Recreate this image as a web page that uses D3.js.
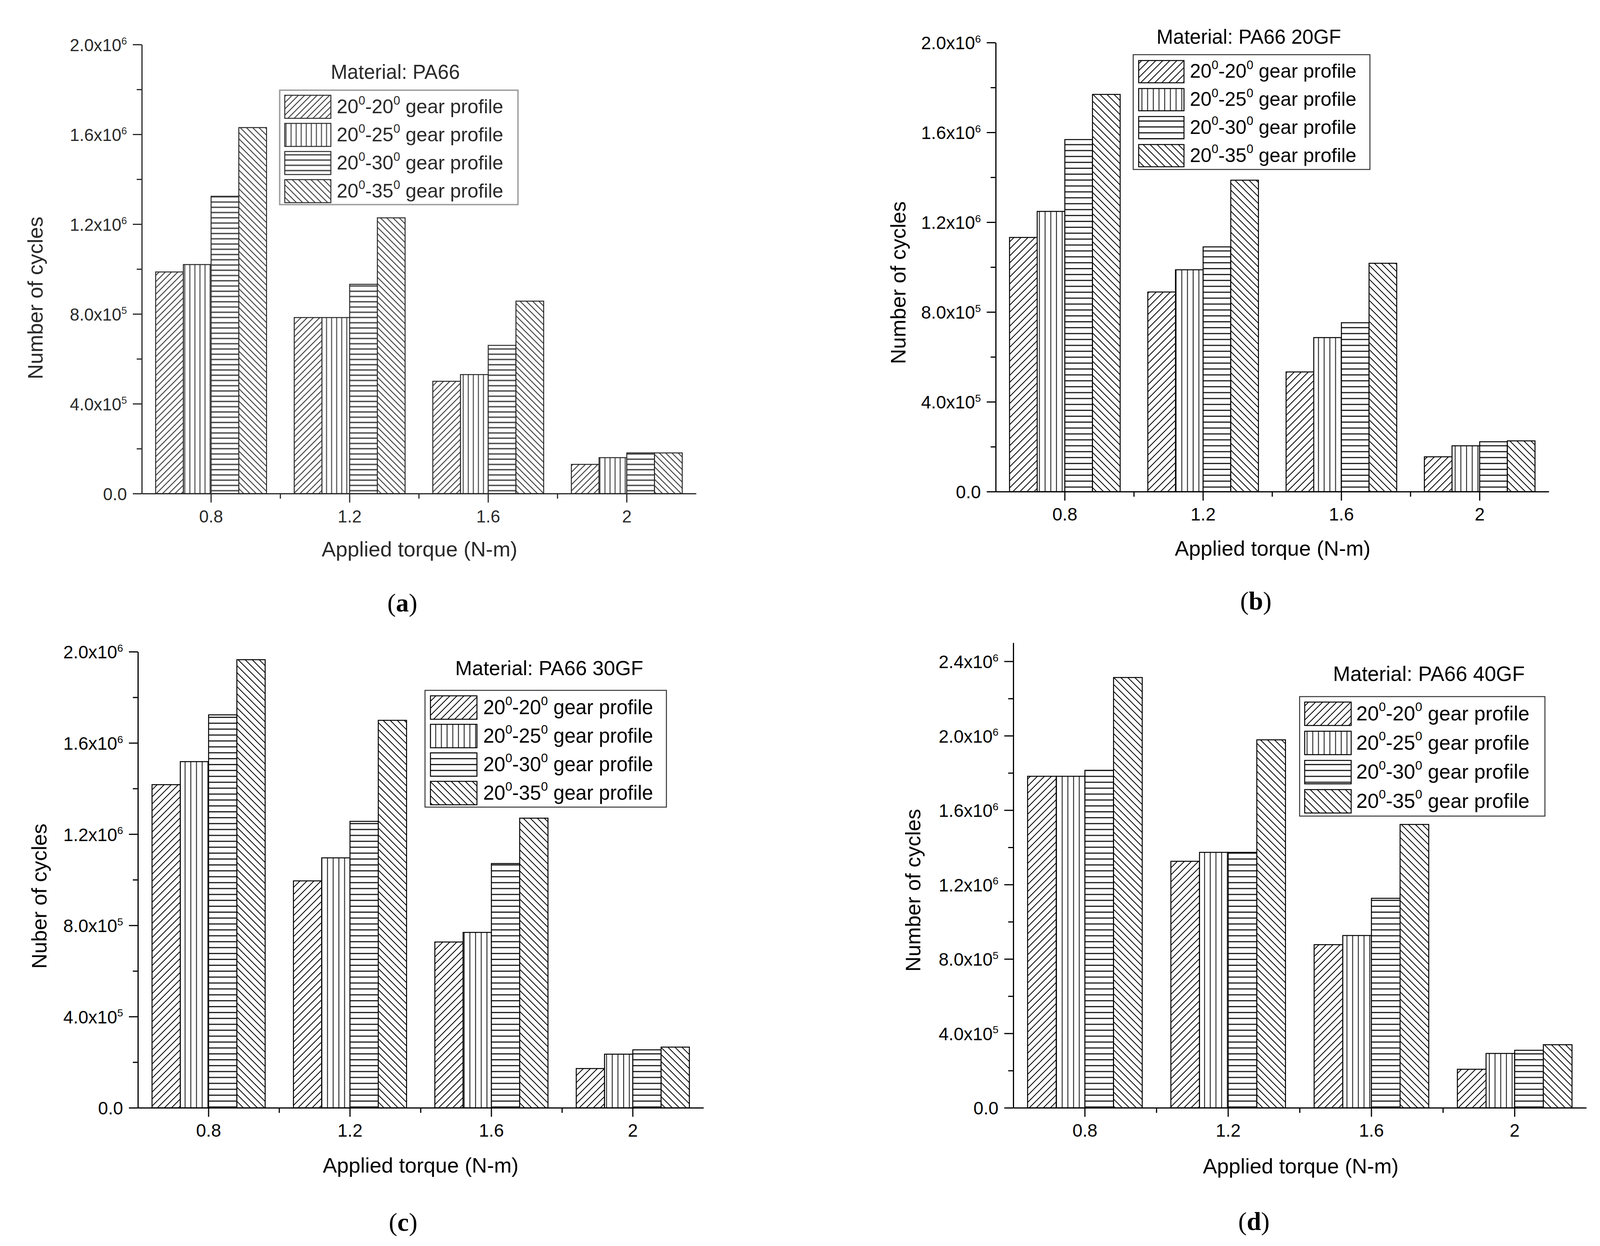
<!DOCTYPE html>
<html><head><meta charset="utf-8">
<script src="https://cdn.jsdelivr.net/npm/d3@7/dist/d3.min.js"></script>
<style>body{margin:0;background:#fff}svg{display:block}</style>
</head><body>
<svg id="chart" width="4102" height="3191"></svg>
<script>
// ---------- DATA ----------
const categories = ["0.8", "1.2", "1.6", "2"];
const seriesLabels = ["20^0-20^0 gear profile", "20^0-25^0 gear profile", "20^0-30^0 gear profile", "20^0-35^0 gear profile"];
const materialTitles = ["Material: PA66", "Material: PA66 20GF", "Material: PA66 30GF", "Material: PA66 40GF"];
const yAxisTitles = ["Number of cycles", "Number of cycles", "Nuber of cycles", "Number of cycles"];
const xAxisTitle = "Applied torque (N-m)";
const panelLetters = ["a", "b", "c", "d"];

// rows = series (20-20, 20-25, 20-30, 20-35), columns = categories
const pa66 = [
  [987000, 784000, 500000, 130000],
  [1020000, 784000, 530000, 160000],
  [1324000, 932000, 660000, 181000],
  [1630000, 1228000, 857000, 181000]
];
const pa66_20gf = [
  [1132000, 889000, 533000, 155000],
  [1248000, 988000, 686000, 204000],
  [1568000, 1090000, 752000, 222000],
  [1769000, 1387000, 1017000, 226000]
];
const pa66_30gf = [
  [1417000, 995000, 727000, 172000],
  [1518000, 1096000, 769000, 235000],
  [1723000, 1256000, 1071000, 254000],
  [1965000, 1699000, 1270000, 266000]
];
const pa66_40gf = [
  [1782000, 1325000, 877000, 207000],
  [1782000, 1373000, 926000, 292000],
  [1814000, 1373000, 1126000, 309000],
  [2313000, 1978000, 1523000, 339000]
];
const panelData = [pa66, pa66_20gf, pa66_30gf, pa66_40gf];

const yTicksABC = [0, 400000, 800000, 1200000, 1600000, 2000000];
const yTickLabelsABC = ["0.0", "4.0x10^5", "8.0x10^5", "1.2x10^6", "1.6x10^6", "2.0x10^6"];
const yTicksD = [0, 400000, 800000, 1200000, 1600000, 2000000, 2400000];
const yTickLabelsD = ["0.0", "4.0x10^5", "8.0x10^5", "1.2x10^6", "1.6x10^6", "2.0x10^6", "2.4x10^6"];
const yMinorABC = [200000, 600000, 1000000, 1400000, 1800000];
const yMinorD = [200000, 600000, 1000000, 1400000, 1800000, 2200000];
const yMax = [2000000, 2000000, 2000000, 2500000];

// ---------- LAYOUT ----------
const layouts = [
  {left:363, right:1782, top:114, zero:1264, yLabelX:90, yLabelY:763, xLabelX:1074, xLabelY:1425, letterX:1030, letterY:1566,
   legend:{x:716, y:231, w:610, h:293, titleX:1012, titleY:202, swX:729, swY:244, swW:118, swH:59, step:72, textX:862, fs:50},
   ink:"#2a2a2a", hatch:"#4a4a4a", border:"#9c9c9c", tickFs:44, gap:16, hw:2.6},
  {left:2549, right:3965, top:109, zero:1259, yLabelX:2299, yLabelY:724, xLabelX:3258, xLabelY:1423, letterX:3215, letterY:1561,
   legend:{x:2901, y:140, w:606, h:294, titleX:3197, titleY:112, swX:2915, swY:155, swW:116, swH:57, step:71.7, textX:3046, fs:50},
   ink:"#000", hatch:"#000", border:"#333", tickFs:46, gap:18, hw:2},
  {left:353, right:1801, top:1669, zero:2837, yLabelX:100, yLabelY:2295, xLabelX:1077, xLabelY:3003, letterX:1032, letterY:3152,
   legend:{x:1088, y:1768, w:618, h:299, titleX:1406, titleY:1729, swX:1102, swY:1782, swW:119, swH:60, step:73, textX:1237, fs:51},
   ink:"#000", hatch:"#000", border:"#333", tickFs:46, gap:18, hw:2},
  {left:2594, right:4061, top:1646, zero:2837, yLabelX:2337, yLabelY:2280, xLabelX:3330, xLabelY:3005, letterX:3210, letterY:3150,
   legend:{x:3327, y:1784, w:628, h:306, titleX:3658, titleY:1744, swX:3340, swY:1798, swW:119, swH:60, step:74.7, textX:3472, fs:52},
   ink:"#000", hatch:"#000", border:"#333", tickFs:46, gap:18, hw:2}
];

const FONT = "'Liberation Sans', Arial, sans-serif";
const svg = d3.select("#chart");
svg.append("rect").attr("width", 4102).attr("height", 3191).attr("fill", "#fff");
const defs = svg.append("defs");

function supText(sel, label, fs, supFs, shift) {
  const parts = label.split(/\^(\d+)/);
  let raised = false;
  parts.forEach((p, i) => {
    if (p === "") return;
    const t = sel.append("tspan").text(p);
    if (i % 2 === 1) {
      t.attr("font-size", supFs).attr("dy", -shift);
      raised = true;
    } else {
      t.attr("font-size", fs);
      if (raised) { t.attr("dy", shift); raised = false; }
    }
  });
}

function makePatterns(pi, L) {
  const g = L.gap, col = L.hatch, w = L.hw;
  const diag1 = defs.append("pattern").attr("id", `h${pi}0`).attr("patternUnits", "userSpaceOnUse")
    .attr("width", g).attr("height", g);
  diag1.append("rect").attr("width", g).attr("height", g).attr("fill", "#fff");
  diag1.append("path").attr("d", `M0,${g} L${g},0 M${-g/2},${g/2} L${g/2},${-g/2} M${g/2},${g*1.5} L${g*1.5},${g/2}`)
    .attr("stroke", col).attr("stroke-width", w);
  const gv = g * 0.81;
  const vert = defs.append("pattern").attr("id", `h${pi}1`).attr("patternUnits", "userSpaceOnUse")
    .attr("width", gv).attr("height", 10);
  vert.append("rect").attr("width", gv).attr("height", 10).attr("fill", "#fff");
  vert.append("path").attr("d", `M${gv/2},0 V10`).attr("stroke", col).attr("stroke-width", w);
  const gh = g * 0.84;
  const hor = defs.append("pattern").attr("id", `h${pi}2`).attr("patternUnits", "userSpaceOnUse")
    .attr("width", 10).attr("height", gh);
  hor.append("rect").attr("width", 10).attr("height", gh).attr("fill", "#fff");
  hor.append("path").attr("d", `M0,${gh/2} H10`).attr("stroke", col).attr("stroke-width", w * 1.35);
  const diag2 = defs.append("pattern").attr("id", `h${pi}3`).attr("patternUnits", "userSpaceOnUse")
    .attr("width", g).attr("height", g);
  diag2.append("rect").attr("width", g).attr("height", g).attr("fill", "#fff");
  diag2.append("path").attr("d", `M0,0 L${g},${g} M${-g/2},${g/2} L${g/2},${g*1.5} M${g/2},${-g/2} L${g*1.5},${g/2}`)
    .attr("stroke", col).attr("stroke-width", w);
}

layouts.forEach((L, pi) => {
  makePatterns(pi, L);
  const data = panelData[pi];
  const ink = L.ink;
  const g = svg.append("g").attr("font-family", FONT).attr("fill", ink);

  const x = d3.scaleBand().domain(categories).range([L.left, L.right]).padding(0);
  const bw = x.bandwidth();
  const xs = d3.scaleBand().domain(d3.range(seriesLabels.length)).range([bw * 0.1, bw * 0.9]).padding(0);
  const y = d3.scaleLinear().domain([0, yMax[pi]]).range([L.zero, L.top]);

  // bars
  data.forEach((row, si) => {
    g.append("g").selectAll("rect").data(row).join("rect")
      .attr("x", (d, ci) => x(categories[ci]) + xs(si))
      .attr("y", d => y(d))
      .attr("width", xs.bandwidth())
      .attr("height", d => y(0) - y(d))
      .attr("fill", `url(#h${pi}${si})`)
      .attr("stroke", ink).attr("stroke-width", 2.5);
  });

  // y axis
  const ticks = pi === 3 ? yTicksD : yTicksABC;
  const tickLabels = pi === 3 ? yTickLabelsD : yTickLabelsABC;
  const minors = pi === 3 ? yMinorD : yMinorABC;
  const yAx = g.append("g").attr("transform", `translate(${L.left},0)`)
    .call(d3.axisLeft(y).tickValues(ticks).tickSize(23).tickSizeOuter(0).tickFormat(""));
  const yAxMin = g.append("g").attr("transform", `translate(${L.left},0)`)
    .call(d3.axisLeft(y).tickValues(minors).tickSize(13).tickSizeOuter(0).tickFormat(""));
  yAxMin.select(".domain").remove();
  [yAx, yAxMin].forEach(a => { a.selectAll("path,line").attr("stroke", ink).attr("stroke-width", 3); });

  ticks.forEach((t, i) => {
    const tx = g.append("text").attr("x", L.left - 38).attr("y", y(t) + L.tickFs * 0.38)
      .attr("text-anchor", "end").attr("font-size", L.tickFs);
    supText(tx, tickLabels[i], L.tickFs, L.tickFs * 0.58, L.tickFs * 0.38);
  });

  // x axis
  const xAx = g.append("g").attr("transform", `translate(0,${L.zero})`)
    .call(d3.axisBottom(x).tickSize(23).tickSizeOuter(0).tickFormat(""));
  xAx.selectAll("path,line").attr("stroke", ink).attr("stroke-width", 3);
  g.append("g").selectAll("line").data(categories.slice(1)).join("line")
    .attr("x1", d => x(d)).attr("x2", d => x(d))
    .attr("y1", L.zero).attr("y2", L.zero + 13)
    .attr("stroke", ink).attr("stroke-width", 3);
  g.append("g").selectAll("text").data(categories).join("text")
    .attr("x", d => x(d) + bw / 2).attr("y", L.zero + 74)
    .attr("text-anchor", "middle").attr("font-size", L.tickFs).text(d => d);

  // axis titles
  g.append("text").attr("x", L.xLabelX).attr("y", L.xLabelY).attr("text-anchor", "middle")
    .attr("font-size", 54).text(xAxisTitle);
  g.append("text").attr("transform", `translate(${L.yLabelX},${L.yLabelY}) rotate(-90)`)
    .attr("text-anchor", "middle").attr("dominant-baseline", "central")
    .attr("font-size", 54).text(yAxisTitles[pi]);

  // legend
  const Lg = L.legend;
  g.append("text").attr("x", Lg.titleX).attr("y", Lg.titleY).attr("text-anchor", "middle")
    .attr("font-size", Lg.fs + 1).text(materialTitles[pi]);
  g.append("rect").attr("x", Lg.x).attr("y", Lg.y).attr("width", Lg.w).attr("height", Lg.h)
    .attr("fill", "#fff").attr("stroke", L.border).attr("stroke-width", pi === 0 ? 3.5 : 2.5);
  seriesLabels.forEach((lab, si) => {
    const top = Lg.swY + si * Lg.step;
    g.append("rect").attr("x", Lg.swX).attr("y", top).attr("width", Lg.swW).attr("height", Lg.swH)
      .attr("fill", `url(#h${pi}${si})`).attr("stroke", ink).attr("stroke-width", 2.5);
    const t = g.append("text").attr("x", Lg.textX).attr("y", top + Lg.swH * 0.78);
    supText(t, lab, Lg.fs, Lg.fs * 0.62, Lg.fs * 0.45);
  });

  // panel letter
  const pl = svg.append("text").attr("x", L.letterX).attr("y", L.letterY).attr("text-anchor", "middle")
    .attr("font-family", "'Liberation Serif', 'Times New Roman', serif").attr("font-size", 66).attr("fill", "#000");
  pl.append("tspan").text("(");
  pl.append("tspan").attr("font-weight", "bold").text(panelLetters[pi]);
  pl.append("tspan").text(")");
});
</script>
</body></html>
